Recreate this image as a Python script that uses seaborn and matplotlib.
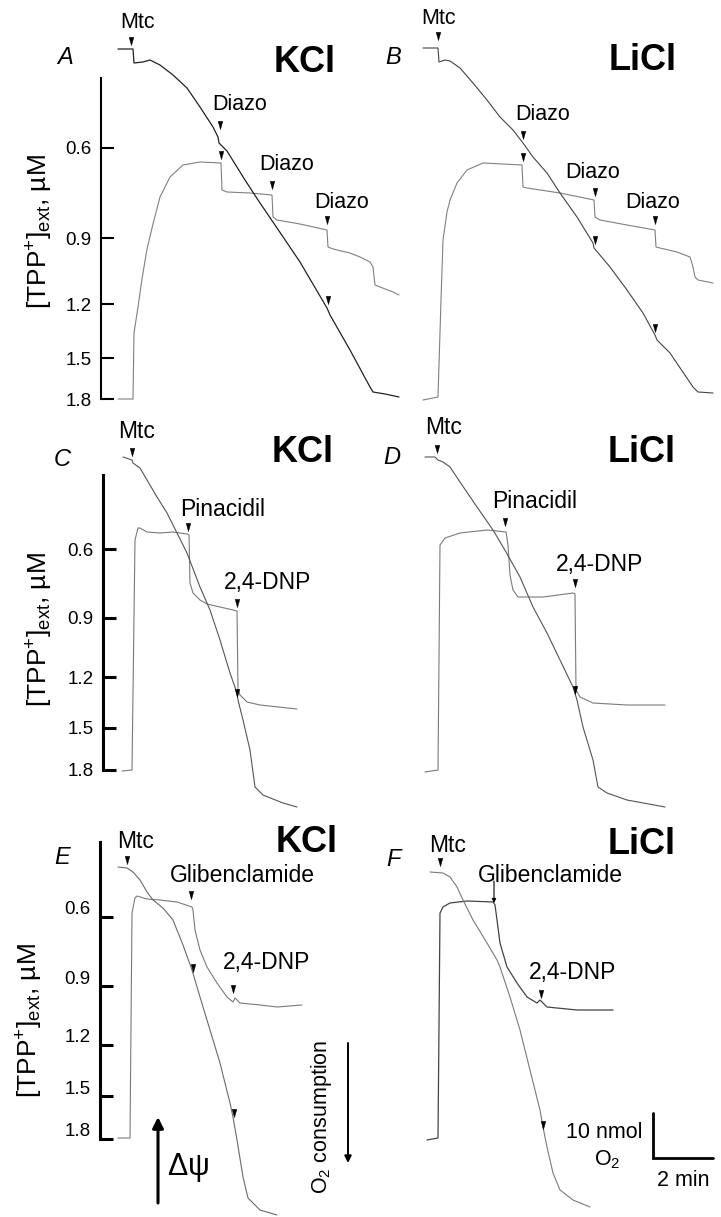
import matplotlib
matplotlib.use("Agg")
import matplotlib.pyplot as plt
import seaborn as sns
from matplotlib.path import Path
from matplotlib.transforms import ScaledTranslation

sns.set_theme(style="white")
plt.rcParams["font.family"] = ["Liberation Sans", "DejaVu Sans"]
plt.rcParams["mathtext.fontset"] = "custom"
plt.rcParams["mathtext.rm"] = "Liberation Sans"
plt.rcParams["mathtext.it"] = "Liberation Sans:italic"
plt.rcParams["mathtext.default"] = "regular"

# ---------------- data (time in s, signal in recorder units) ----------------
tpp_tick_labels = ["0.6", "0.9", "1.2", "1.5", "1.8"]
tpp_ticks_ab = [251, 161, 95, 41, 0]
tpp_ticks_cdef = [221, 152, 93, 42, 0]
tpp_ticks_e = [222, 153, 94, 43, 0]

# Panel A (KCl, diazoxide)
a_tpp_t = [0, 30, 32, 40, 48, 58, 70, 84, 104, 130, 164, 206, 208, 218, 264, 308, 310, 318, 364, 418, 420, 430, 464, 484, 504, 510, 514, 524, 550, 562]
a_tpp_y = [0, 0, 66, 92, 120, 150, 175, 202, 222, 234, 237, 236, 209, 207, 206, 204, 182, 179, 175, 169, 152, 150, 146, 142, 137, 132, 114, 112, 107, 104]
a_o2_t = [0, 30, 32, 50, 64, 84, 110, 138, 164, 190, 200, 202, 218, 254, 284, 314, 364, 418, 424, 464, 504, 510, 534, 562]
a_o2_y = [350, 350, 336, 337, 339, 334, 324, 311, 292, 272, 262, 256, 248, 219, 196, 174, 137, 91, 84, 49, 12, 7, 5, 2]
a_mark_t = [26, 204, 206, 308, 418, 420]
a_mark_y = [358, 274, 244, 214, 179, 99]

# Panel B (LiCl, diazoxide)
b_tpp_t = [0, 30, 36, 40, 48, 54, 68, 88, 120, 160, 198, 200, 208, 274, 342, 344, 354, 408, 464, 466, 474, 508, 534, 540, 544, 550, 580]
b_tpp_y = [-1, 2, 99, 159, 187, 199, 216, 229, 236, 235, 234, 212, 211, 206, 199, 182, 179, 174, 169, 152, 151, 147, 142, 132, 122, 119, 116]
b_o2_t = [0, 30, 32, 44, 54, 74, 100, 128, 154, 180, 200, 220, 248, 274, 308, 340, 342, 374, 408, 440, 464, 468, 494, 540, 550, 580]
b_o2_y = [351, 351, 337, 339, 338, 331, 316, 299, 282, 269, 256, 242, 226, 206, 182, 156, 151, 132, 109, 86, 64, 59, 46, 12, 7, 6]
b_mark_t = [30, 200, 200, 344, 344, 464, 464]
b_mark_y = [363, 264, 242, 207, 159, 179, 71]

# Panel C (KCl, pinacidil)
c_tpp_t = [0, 20, 26, 32, 36, 50, 76, 102, 130, 134, 136, 142, 156, 170, 222, 230, 232, 236, 250, 276, 350]
c_tpp_y = [-1, 0, 230, 242, 242, 238, 237, 238, 236, 235, 187, 177, 170, 166, 160, 159, 80, 75, 68, 65, 61]
c_o2_t = [2, 20, 22, 36, 50, 70, 90, 110, 130, 156, 176, 196, 216, 230, 232, 242, 256, 266, 282, 322, 350]
c_o2_y = [313, 310, 307, 302, 290, 273, 257, 237, 217, 183, 160, 130, 97, 77, 70, 50, 20, -17, -25, -33, -37]
c_mark_t = [20, 132, 230, 230]
c_mark_y = [318, 243, 167, 77]

# Panel D (LiCl, pinacidil)
d_tpp_t = [0, 26, 30, 40, 70, 124, 162, 166, 170, 176, 186, 236, 296, 300, 302, 310, 336, 404, 480]
d_tpp_y = [-2, 0, 225, 232, 237, 240, 238, 225, 195, 180, 173, 173, 177, 176, 80, 73, 67, 65, 65]
d_o2_t = [0, 20, 26, 36, 50, 70, 104, 136, 162, 190, 216, 244, 270, 296, 304, 316, 336, 346, 364, 404, 480]
d_o2_y = [313, 313, 310, 308, 303, 288, 263, 240, 218, 193, 163, 137, 110, 83, 70, 43, 10, -17, -23, -30, -37]
d_mark_t = [24, 160, 300, 300]
d_mark_y = [321, 248, 187, 80]

# Panel E (KCl, glibenclamide)
e_tpp_t = [0, 24, 28, 34, 38, 58, 84, 118, 148, 150, 154, 164, 178, 198, 218, 230, 234, 244, 284, 318, 368]
e_tpp_y = [1, 1, 226, 241, 243, 240, 239, 237, 232, 229, 209, 189, 172, 156, 142, 137, 141, 136, 134, 132, 134]
e_o2_t = [0, 18, 30, 44, 58, 70, 90, 110, 130, 148, 164, 184, 204, 224, 230, 238, 250, 260, 284, 318]
e_o2_y = [272, 271, 267, 259, 247, 239, 231, 219, 194, 169, 142, 109, 76, 36, 22, -1, -38, -59, -71, -76]
e_mark_t = [18, 146, 150, 230, 232]
e_mark_y = [279, 244, 171, 150, 26]

# Panel F (LiCl, glibenclamide)
f_tpp_t = [0, 22, 26, 32, 46, 80, 132, 136, 140, 146, 160, 180, 200, 220, 226, 240, 300, 372]
f_tpp_y = [-1, 1, 226, 232, 236, 238, 237, 234, 219, 196, 172, 156, 142, 136, 139, 132, 129, 129]
f_o2_t = [6, 32, 46, 60, 72, 92, 120, 140, 146, 166, 186, 206, 226, 232, 240, 252, 266, 292, 326]
f_o2_y = [267, 266, 262, 252, 239, 219, 196, 179, 172, 142, 109, 69, 29, 12, -8, -34, -51, -61, -68]
f_mark_t = [26, 228, 232]
f_mark_y = [277, 145, 14]

scale_nmol = 10          # O2 scale bar
units_per_nmol = 4.5
scale_min = 2            # time scale bar

# ---------------- figure ----------------
W, H = 721, 1217
fig = plt.figure(figsize=(W / 100, H / 100), dpi=100)
fig.patch.set_facecolor("white")

FS_AB = 15.5
FS_CF = 16.5
FS_TITLE = 26
FS_LETTER = 17
FS_TICK = 13.5
FS_YLAB = 19


def make_axes(box, x0, y0):
    l, t, r, b = box
    ax = fig.add_axes([l / W, 1 - b / H, (r - l) / W, (b - t) / H])
    ax.patch.set_alpha(0)
    ax.grid(False)
    for s in ax.spines.values():
        s.set_visible(False)
    ax._lims = ((2 * (l - x0), 2 * (r - x0)), (y0 - b, y0 - t))
    return ax


def finish(ax):
    ax.set_xlim(*ax._lims[0])
    ax.set_ylim(*ax._lims[1])
    ax.set_xticks([])
    ax.set_xlabel("")
    ax.set_ylabel("")


def trace(ax, t, y, color, lw):
    sns.lineplot(x=t, y=y, ax=ax, sort=False, estimator=None, color=color,
                 linewidth=lw, clip_on=False)


marker_path = Path([(-0.28, 0.5), (0.28, 0.5), (0, -0.5), (-0.28, 0.5)],
                   [Path.MOVETO, Path.LINETO, Path.LINETO, Path.CLOSEPOLY])


def marks(ax, t, y):
    ax.plot(t, y, ls="none", marker=marker_path, ms=6, color="black",
            mec="black", mew=0.3, clip_on=False)


def tpp_axis(ax, ticks, top, lw, shift_px=0):
    sp = ax.spines["left"]
    sp.set_visible(True)
    sp.set_bounds(0, top)
    sp.set_linewidth(lw)
    sp.set_color("black")
    ax.set_yticks(ticks, tpp_tick_labels)
    ax.tick_params(axis="y", left=True, direction="in", length=9.5, width=lw,
                   pad=7, labelsize=FS_TICK, colors="black")
    if shift_px:
        for lab in ax.get_yticklabels():
            lab.set_transform(lab.get_transform() +
                              ScaledTranslation(0, shift_px / 100, fig.dpi_scale_trans))


def txt(ax, x, y, s, size=FS_AB, **kw):
    ax.text(x, y, s, fontsize=size, ha="center", va="center", color="black",
            clip_on=False, **kw)


ylabel = r"[TPP$^{+}$]$_{ext}$, µM"

# ---- Panel A ----
axA = make_axes((101, 0, 410, 410), 118, 399)
trace(axA, a_tpp_t, a_tpp_y, "#808080", 0.8)
trace(axA, a_o2_t, a_o2_y, "#222222", 0.9)
marks(axA, a_mark_t, a_mark_y)
tpp_axis(axA, tpp_ticks_ab, 321, 1.5)
txt(axA, 40, 376, "Mtc")
txt(axA, 244, 294, "Diazo")
txt(axA, 338, 234, "Diazo")
txt(axA, 448, 197, "Diazo")
txt(axA, -106, 341, "A", FS_LETTER, style="italic")
txt(axA, 374, 337, "KCl", FS_TITLE, weight="bold")
txt(axA, -156, 167, ylabel, FS_YLAB, rotation=90)
finish(axA)

# ---- Panel B ----
axB = make_axes((380, 0, 721, 410), 423, 399)
trace(axB, b_tpp_t, b_tpp_y, "#808080", 0.8)
trace(axB, b_o2_t, b_o2_y, "#444444", 0.8)
marks(axB, b_mark_t, b_mark_y)
axB.set_yticks([])
txt(axB, 32, 381, "Mtc")
txt(axB, 240, 284, "Diazo")
txt(axB, 340, 227, "Diazo")
txt(axB, 460, 197, "Diazo")
txt(axB, -60, 342, "B", FS_LETTER, style="italic")
txt(axB, 440, 339, "LiCl", FS_TITLE, weight="bold")
finish(axB)

# ---- Panel C ----
axC = make_axes((103, 410, 370, 815), 122, 770)
trace(axC, c_tpp_t, c_tpp_y, "#7a7a7a", 0.8)
trace(axC, c_o2_t, c_o2_y, "#555555", 0.8)
marks(axC, c_mark_t, c_mark_y)
tpp_axis(axC, tpp_ticks_cdef, 295, 2.2)
txt(axC, 30, 338, "Mtc", FS_CF)
txt(axC, 202, 260, "Pinacidil", FS_CF)
txt(axC, 292, 188, "2,4-DNP", FS_CF)
txt(axC, -120, 310, "C", FS_LETTER, style="italic")
txt(axC, 362, 317, "KCl", FS_TITLE, weight="bold")
txt(axC, -164, 140, ylabel, FS_YLAB, rotation=90)
finish(axC)

# ---- Panel D ----
axD = make_axes((380, 410, 721, 815), 425, 770)
trace(axD, d_tpp_t, d_tpp_y, "#7a7a7a", 0.8)
trace(axD, d_o2_t, d_o2_y, "#555555", 0.8)
marks(axD, d_mark_t, d_mark_y)
axD.set_yticks([])
txt(axD, 38, 342, "Mtc", FS_CF)
txt(axD, 220, 268, "Pinacidil", FS_CF)
txt(axD, 350, 205, "2,4-DNP", FS_CF)
txt(axD, -66, 312, "D", FS_LETTER, style="italic")
txt(axD, 434, 317, "LiCl", FS_TITLE, weight="bold")
finish(axD)

# ---- Panel E ----
axE = make_axes((100, 815, 370, 1217), 118, 1139)
trace(axE, e_tpp_t, e_tpp_y, "#7a7a7a", 0.8)
trace(axE, e_o2_t, e_o2_y, "#6a6a6a", 0.8)
marks(axE, e_mark_t, e_mark_y)
tpp_axis(axE, tpp_ticks_e, 297, 2.2, shift_px=9)
txt(axE, 36, 297, "Mtc", FS_CF)
txt(axE, 248, 264, "Glibenclamide", FS_CF)
txt(axE, 298, 177, "2,4-DNP", FS_CF)
txt(axE, -112, 282, "E", FS_LETTER, style="italic")
txt(axE, 378, 297, "KCl", FS_TITLE, weight="bold")
txt(axE, -176, 118, ylabel, FS_YLAB, rotation=90)
axE.annotate("", xy=(80, 22), xytext=(80, -64),
             arrowprops=dict(arrowstyle="-|>", lw=2.2, color="black",
                             mutation_scale=16, shrinkA=0, shrinkB=0),
             annotation_clip=False)
ax_t = axE.text(140, -29, r"$\Delta\psi$", fontsize=22, ha="center",
                va="center", color="black")
ax_t.set_math_fontfamily("stix")
axE.annotate("", xy=(460, -24), xytext=(460, 96),
             arrowprops=dict(arrowstyle="-|>", lw=1.4, color="black",
                             mutation_scale=10, shrinkA=0, shrinkB=0),
             annotation_clip=False)
txt(axE, 408, 22, r"O$_2$ consumption", FS_AB, rotation=90)
finish(axE)

# ---- Panel F ----
axF = make_axes((380, 815, 721, 1217), 427, 1139)
trace(axF, f_tpp_t, f_tpp_y, "#444444", 0.9)
trace(axF, f_o2_t, f_o2_y, "#7a7a7a", 0.8)
marks(axF, f_mark_t, f_mark_y)
axF.set_yticks([])
axF.annotate("", xy=(134, 236), xytext=(134, 258),
             arrowprops=dict(arrowstyle="-|>", lw=0.8, color="black",
                             mutation_scale=6, shrinkA=0, shrinkB=0),
             annotation_clip=False)
txt(axF, 42, 294, "Mtc", FS_CF)
txt(axF, 246, 264, "Glibenclamide", FS_CF)
txt(axF, 292, 166, "2,4-DNP", FS_CF)
txt(axF, -68, 279, "F", FS_LETTER, style="italic")
txt(axF, 430, 294, "LiCl", FS_TITLE, weight="bold")
# scale bar
bx, by = 452, -19
axF.plot([bx, bx, bx + scale_min * 60], [by + scale_nmol * units_per_nmol, by, by],
         color="black", lw=2.0, solid_joinstyle="miter", clip_on=False)
txt(axF, 354, 7, f"{scale_nmol} nmol", FS_AB)
txt(axF, 360, -21, r"O$_2$", FS_AB)
txt(axF, 512, -41, f"{scale_min} min", FS_AB)
finish(axF)

fig.savefig("out.png", dpi=100, facecolor="white")
